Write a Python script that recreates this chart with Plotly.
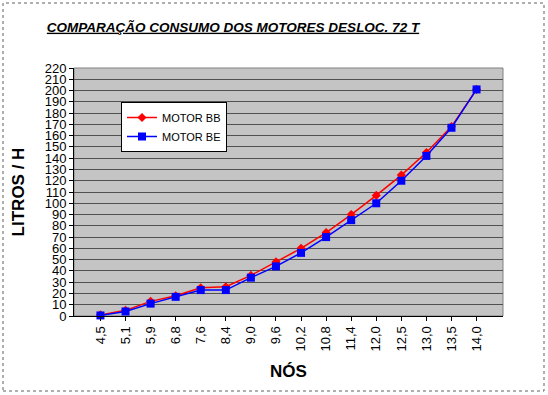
import plotly.graph_objects as go

knots = ["4,5", "5,1", "5,9", "6,8", "7,6", "8,4", "9,0", "9,6", "10,2", "10,8",
         "11,4", "12,0", "12,5", "13,0", "13,5", "14,0"]
motor_bb = [1, 5, 13, 18, 25, 26, 36, 48, 60, 74, 90, 107, 125, 145, 168, 201]
motor_be = [0.5, 4, 11, 17, 23, 23, 34, 44, 56, 70, 85, 100, 120, 142, 167, 201]
y_ticks = list(range(0, 221, 10))

FONT = "Liberation Sans, Arial, sans-serif"
L, R, T, B = 74, 45, 68, 79
PW, PH = 548 - L - R, 395 - T - B

fig = go.Figure()
fig.add_trace(go.Scatter(
    x=knots, y=motor_bb, name="MOTOR BB", mode="lines+markers",
    line=dict(color="#ff0000", width=1.5),
    marker=dict(symbol="diamond", size=7, color="#ff0000"),
    cliponaxis=False,
))
fig.add_trace(go.Scatter(
    x=knots, y=motor_be, name="MOTOR BE", mode="lines+markers",
    line=dict(color="#0000ff", width=1.5),
    marker=dict(symbol="square", size=8, color="#0000ff"),
    cliponaxis=False,
))

fig.update_layout(
    width=548, height=395,
    margin=dict(l=L, r=R, t=T, b=B, autoexpand=False),
    paper_bgcolor="white",
    plot_bgcolor="#c4c4c4",
    font=dict(family=FONT, color="black"),
    title=dict(
        text="<b><i><u>COMPARAÇÃO CONSUMO DOS MOTORES DESLOC. 72 T</u></i></b>",
        xanchor="center", y=1 - 27 / 395, yanchor="middle",
        xref="paper", yref="container",
        font=dict(size=13.5, family=FONT),
    ),
    legend=dict(
        x=(121 - L) / PW, y=(395 - B - 102) / PH, xanchor="left", yanchor="top",
        bgcolor="white", bordercolor="black", borderwidth=1,
        font=dict(size=11, family=FONT),
        tracegroupgap=0, itemwidth=30,
    ),
    showlegend=True,
)
fig.update_layout(title_x=(233 - L) / PW)

fig.update_xaxes(
    type="category",
    tickangle=-90,
    tickfont=dict(size=13, family=FONT),
    showline=True, linecolor="black", linewidth=1,
    ticks="outside", ticklen=4, tickcolor="black",
    showgrid=False, automargin=False,
    title=dict(text="<b>NÓS</b>", font=dict(size=17, family=FONT), standoff=14),
)
fig.update_yaxes(
    range=[0, 220],
    tickvals=y_ticks,
    ticktext=[str(v) for v in y_ticks],
    tickfont=dict(size=13, family=FONT),
    showline=True, linecolor="black", linewidth=1,
    ticks="outside", ticklen=4, tickcolor="black",
    showgrid=True, gridcolor="#505050", gridwidth=1,
    zeroline=False, automargin=False,
    title=dict(text="<b>LITROS / H</b>", font=dict(size=17, family=FONT), standoff=15),
)

# plot-area border (gray) and dotted chart border
fig.add_shape(type="rect", xref="paper", yref="paper", x0=0, y0=0, x1=1, y1=1,
              line=dict(color="#808080", width=1), layer="below")
fig.add_shape(type="rect", xref="paper", yref="paper",
              x0=(3 - L) / PW, y0=-(B - 4) / PH, x1=1 + (R - 4) / PW, y1=1 + (T - 3) / PH,
              line=dict(color="#606060", width=1, dash="dot"))

fig.write_html("out.html", config={"displayModeBar": False},
               post_script="document.body.style.margin='0';document.body.style.overflow='hidden';")
